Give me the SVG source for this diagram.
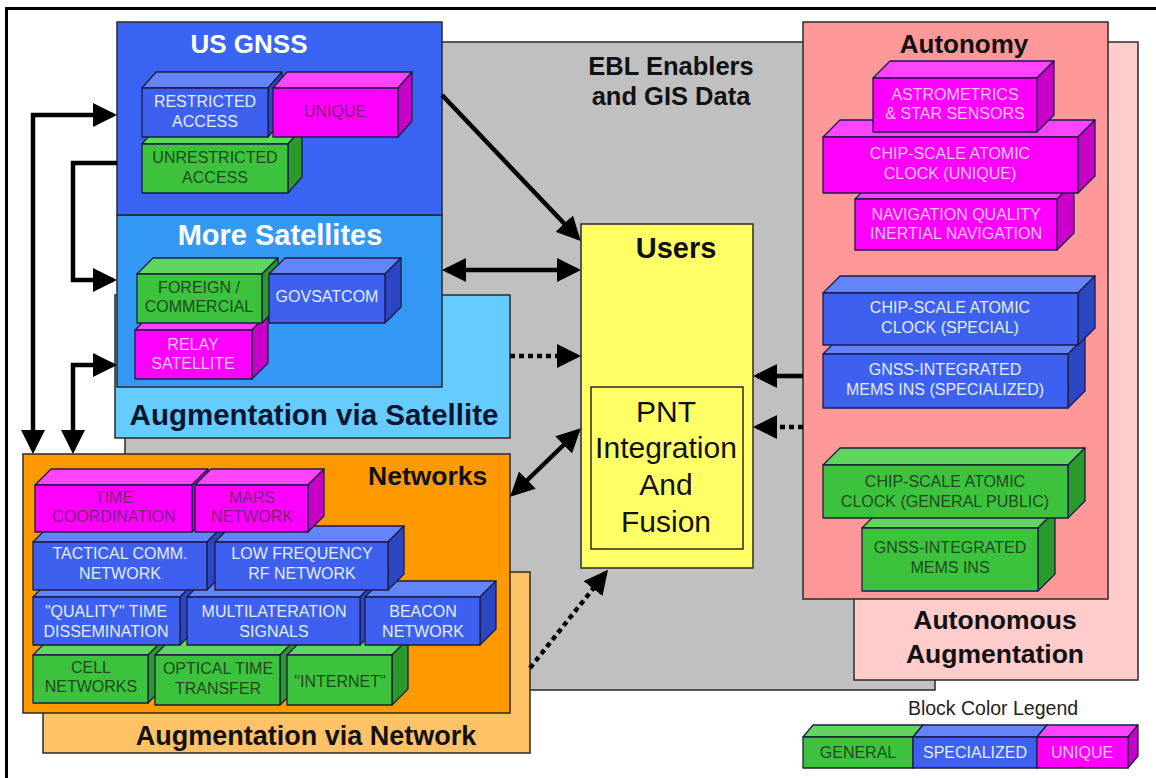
<svg xmlns="http://www.w3.org/2000/svg" width="1156" height="778" viewBox="0 0 1156 778">
<style>
text{font-family:"Liberation Sans",Arial,sans-serif;}
.reg{stroke:#2a2a2a;stroke-width:1.5;}
.title{font-weight:bold;text-anchor:middle;}
.blk polygon,.blk rect{stroke:#1c1c44;stroke-width:1.3;stroke-linejoin:round;}
.blk text{font-size:16px;text-anchor:middle;}
.blue rect{fill:#3d60ee;} .blue .t{fill:#6485fa;} .blue .s{fill:#2c47c4;} .blue text{fill:#e4ecff;}
.green rect{fill:#3cc23c;} .green .t{fill:#5fd65f;} .green .s{fill:#2a9a2a;} .green text{fill:#1d4a1d;}
.mag rect{fill:#ff00ff;} .mag .t{fill:#ff44ff;} .mag .s{fill:#c800c8;} .mag text{fill:#ffc4ff;}
.mag text.dk{fill:#7e247e;}
.arr{fill:none;stroke:#000;stroke-width:4.5;}
.dot{stroke-dasharray:5 4;}
</style>
<defs>
<marker id="ah" viewBox="0 0 24 24" refX="20" refY="12" markerWidth="24" markerHeight="24" markerUnits="userSpaceOnUse" orient="auto-start-reverse">
<path d="M0,0 L24,12 L0,24 z" fill="#000"/>
</marker>
</defs>
<rect width="1156" height="778" fill="#fff"/>
<line x1="5" y1="8.5" x2="1156" y2="8.5" stroke="#000" stroke-width="3"/>
<line x1="6.5" y1="7" x2="6.5" y2="778" stroke="#000" stroke-width="3"/>

<g id="ebl">
<rect class="reg" x="125" y="42" width="810" height="648" fill="#c0c0c0"/>
<text class="title" x="671" y="75" font-size="25.5" fill="#111">EBL Enablers</text>
<text class="title" x="671" y="105" font-size="25.5" fill="#111">and GIS Data</text>
</g>

<g id="autonomous-augmentation">
<rect class="reg" x="854" y="42" width="284" height="638" fill="#ffcccc"/>
<text class="title" x="995" y="629" font-size="26.5" fill="#111">Autonomous</text>
<text class="title" x="995" y="663" font-size="26.5" fill="#111">Augmentation</text>
</g>

<g id="autonomy">
<rect class="reg" x="803" y="22" width="305" height="577" fill="#ff9999"/>
<text class="title" x="964" y="53" font-size="26" fill="#111">Autonomy</text>
</g>
<g id="gnss-mems-ins" class="blk green">
<polygon class="t" points="862,528 879,511 1055,511 1038,528"/><polygon class="s" points="1038,528 1055,511 1055,574 1038,591"/><rect x="862" y="528" width="176" height="63"/>
<text x="950" y="553">GNSS-INTEGRATED</text><text x="950" y="573">MEMS INS</text></g>
<g id="csac-general" class="blk green">
<polygon class="t" points="823,465 840,448 1085,448 1068,465"/><polygon class="s" points="1068,465 1085,448 1085,501 1068,518"/><rect x="823" y="465" width="245" height="53"/>
<text x="945" y="487">CHIP-SCALE ATOMIC</text><text x="945" y="507">CLOCK (GENERAL PUBLIC)</text></g>
<g id="gnss-mems-ins-spec" class="blk blue">
<polygon class="t" points="823,354 840,337 1085,337 1068,354"/><polygon class="s" points="1068,354 1085,337 1085,391 1068,408"/><rect x="823" y="354" width="245" height="54"/>
<text x="945" y="375">GNSS-INTEGRATED</text><text x="945" y="395">MEMS INS (SPECIALIZED)</text></g>
<g id="csac-special" class="blk blue">
<polygon class="t" points="823,293 840,276 1095,276 1078,293"/><polygon class="s" points="1078,293 1095,276 1095,328 1078,345"/><rect x="823" y="293" width="255" height="52"/>
<text x="950" y="313">CHIP-SCALE ATOMIC</text><text x="950" y="333">CLOCK (SPECIAL)</text></g>
<g id="nav-quality-ins" class="blk mag">
<polygon class="t" points="855,199 872,182 1074,182 1057,199"/><polygon class="s" points="1057,199 1074,182 1074,233 1057,250"/><rect x="855" y="199" width="202" height="51"/>
<text x="956" y="220">NAVIGATION QUALITY</text><text x="956" y="239">INERTIAL NAVIGATION</text></g>
<g id="csac-unique" class="blk mag">
<polygon class="t" points="823,137 840,120 1095,120 1078,137"/><polygon class="s" points="1078,137 1095,120 1095,176 1078,193"/><rect x="823" y="137" width="255" height="56"/>
<text x="950" y="159">CHIP-SCALE ATOMIC</text><text x="950" y="179">CLOCK (UNIQUE)</text></g>
<g id="astrometrics" class="blk mag">
<polygon class="t" points="873,78 890,61 1054,61 1037,78"/><polygon class="s" points="1037,78 1054,61 1054,115 1037,132"/><rect x="873" y="78" width="164" height="54"/>
<text x="955" y="100">ASTROMETRICS</text><text x="955" y="119">&amp; STAR SENSORS</text></g>

<g id="augmentation-via-satellite">
<rect class="reg" x="115" y="295" width="395" height="143" fill="#66ccff"/>
<text class="title" x="314" y="425" font-size="29.5" fill="#0b1530">Augmentation via Satellite</text>
</g>
<g id="more-satellites">
<rect class="reg" x="117" y="215" width="325" height="172" fill="#3399f5"/>
<text class="title" x="280" y="245" font-size="29" fill="#fff">More Satellites</text>
</g>
<g id="relay-satellite" class="blk mag">
<polygon class="t" points="135,330 151,314 268,314 252,330"/><polygon class="s" points="252,330 268,314 268,363 252,379"/><rect x="135" y="330" width="117" height="49"/>
<text x="193" y="350">RELAY</text><text x="193" y="369">SATELLITE</text></g>
<g id="foreign-commercial" class="blk green">
<polygon class="t" points="137,274 153,258 278,258 262,274"/><polygon class="s" points="262,274 278,258 278,307 262,323"/><rect x="137" y="274" width="125" height="49"/>
<text x="199" y="293">FOREIGN /</text><text x="199" y="312">COMMERCIAL</text></g>
<g id="govsatcom" class="blk blue">
<polygon class="t" points="269,274 285,258 401,258 385,274"/><polygon class="s" points="385,274 401,258 401,307 385,323"/><rect x="269" y="274" width="116" height="49"/>
<text x="327" y="302">GOVSATCOM</text></g>

<g id="us-gnss">
<rect class="reg" x="117" y="22" width="325" height="193" fill="#3a64f3"/>
<text class="title" x="249" y="53" font-size="26" fill="#fff">US GNSS</text>
</g>
<g id="unrestricted-access" class="blk green">
<polygon class="t" points="142,144 156,128 302,128 288,144"/><polygon class="s" points="288,144 302,128 302,177 288,193"/><rect x="142" y="144" width="146" height="49"/>
<text x="215" y="163">UNRESTRICTED</text><text x="215" y="183">ACCESS</text></g>
<g id="restricted-access" class="blk blue">
<polygon class="t" points="142,88 156,72 282,72 268,88"/><polygon class="s" points="268,88 282,72 282,121 268,137"/><rect x="142" y="88" width="126" height="49"/>
<text x="205" y="107">RESTRICTED</text><text x="205" y="127">ACCESS</text></g>
<g id="unique-gnss" class="blk mag">
<polygon class="t" points="273,88 287,72 412,72 398,88"/><polygon class="s" points="398,88 412,72 412,121 398,137"/><rect x="273" y="88" width="125" height="49"/>
<text class="dk" x="335" y="117">UNIQUE</text></g>

<g id="augmentation-via-network">
<rect class="reg" x="43" y="572" width="487" height="181" fill="#ffc266"/>
<text class="title" x="306" y="745" font-size="27" fill="#111">Augmentation via Network</text>
</g>
<g id="networks">
<rect class="reg" x="23" y="454" width="487" height="259" fill="#ff9900"/>
<text x="368" y="485" font-size="26.5" font-weight="bold" fill="#111">Networks</text>
</g>
<g id="cell-networks" class="blk green">
<polygon class="t" points="33,655 49,639 164,639 148,655"/><polygon class="s" points="148,655 164,639 164,687 148,703"/><rect x="33" y="655" width="115" height="48"/>
<text x="91" y="673">CELL</text><text x="91" y="692">NETWORKS</text></g>
<g id="optical-time-transfer" class="blk green">
<polygon class="t" points="155,655 171,639 296,639 280,655"/><polygon class="s" points="280,655 296,639 296,689 280,705"/><rect x="155" y="655" width="125" height="50"/>
<text x="218" y="674">OPTICAL TIME</text><text x="218" y="694">TRANSFER</text></g>
<g id="internet" class="blk green">
<polygon class="t" points="287,655 303,639 408,639 392,655"/><polygon class="s" points="392,655 408,639 408,689 392,705"/><rect x="287" y="655" width="105" height="50"/>
<text x="340" y="687">"INTERNET"</text></g>
<g id="quality-time" class="blk blue">
<polygon class="t" points="33,597 49,581 196,581 180,597"/><polygon class="s" points="180,597 196,581 196,629 180,645"/><rect x="33" y="597" width="147" height="48"/>
<text x="106" y="617">"QUALITY" TIME</text><text x="106" y="637">DISSEMINATION</text></g>
<g id="multilateration" class="blk blue">
<polygon class="t" points="187,597 203,581 376,581 360,597"/><polygon class="s" points="360,597 376,581 376,629 360,645"/><rect x="187" y="597" width="173" height="48"/>
<text x="274" y="617">MULTILATERATION</text><text x="274" y="637">SIGNALS</text></g>
<g id="beacon-network" class="blk blue">
<polygon class="t" points="365,597 381,581 496,581 480,597"/><polygon class="s" points="480,597 496,581 496,629 480,645"/><rect x="365" y="597" width="115" height="48"/>
<text x="423" y="617">BEACON</text><text x="423" y="637">NETWORK</text></g>
<g id="tactical-comm" class="blk blue">
<polygon class="t" points="33,542 49,526 223,526 207,542"/><polygon class="s" points="207,542 223,526 223,574 207,590"/><rect x="33" y="542" width="174" height="48"/>
<text x="120" y="559">TACTICAL COMM.</text><text x="120" y="579">NETWORK</text></g>
<g id="low-frequency-rf" class="blk blue">
<polygon class="t" points="215,542 231,526 404,526 388,542"/><polygon class="s" points="388,542 404,526 404,574 388,590"/><rect x="215" y="542" width="173" height="48"/>
<text x="302" y="559">LOW FREQUENCY</text><text x="302" y="579">RF NETWORK</text></g>
<g id="time-coordination" class="blk mag">
<polygon class="t" points="35,485 51,469 208,469 192,485"/><polygon class="s" points="192,485 208,469 208,516 192,532"/><rect x="35" y="485" width="157" height="47"/>
<text class="dk" x="114" y="503">TIME</text><text class="dk" x="114" y="522">COORDINATION</text></g>
<g id="mars-network" class="blk mag">
<polygon class="t" points="195,485 211,469 324,469 308,485"/><polygon class="s" points="308,485 324,469 324,516 308,532"/><rect x="195" y="485" width="113" height="47"/>
<text class="dk" x="252" y="503">MARS</text><text class="dk" x="252" y="522">NETWORK</text></g>

<g id="users">
<rect class="reg" x="581" y="224" width="172" height="344" fill="#ffff66"/>
<text class="title" x="676" y="258" font-size="29" fill="#111">Users</text>
</g>
<g id="pnt-fusion">
<rect class="reg" x="591" y="387" width="152" height="162" fill="#ffff66"/>
<g font-size="30" text-anchor="middle" fill="#111">
<text x="666" y="422">PNT</text><text x="666" y="458">Integration</text><text x="666" y="495">And</text><text x="666" y="532">Fusion</text>
</g>
</g>

<g id="legend">
<text x="993" y="715" font-size="19.5" text-anchor="middle" fill="#222">Block Color Legend</text>
<g class="blk green"><polygon class="t" points="803,737 813,725 923,725 913,737"/><polygon class="s" points="913,737 923,725 923,756 913,768"/><rect x="803" y="737" width="110" height="31"/><text x="858" y="758">GENERAL</text></g>
<g class="blk blue"><polygon class="t" points="913,737 923,725 1047,725 1037,737"/><polygon class="s" points="1037,737 1047,725 1047,756 1037,768"/><rect x="913" y="737" width="124" height="31"/><text x="975" y="758">SPECIALIZED</text></g>
<g class="blk mag"><polygon class="t" points="1037,737 1047,725 1138,725 1128,737"/><polygon class="s" points="1128,737 1138,725 1138,756 1128,768"/><rect x="1037" y="737" width="91" height="31"/><text x="1082" y="758">UNIQUE</text></g>
</g>

<g id="connectors">
<path class="arr" d="M113,115 L33,115 L33,450" marker-start="url(#ah)" marker-end="url(#ah)"/>
<path class="arr" d="M117,163 L73,163 L73,280 L113,280" marker-end="url(#ah)"/>
<path class="arr" d="M113,365 L73,365 L73,450" marker-start="url(#ah)" marker-end="url(#ah)"/>
<path class="arr" d="M442,95 L578,238" marker-end="url(#ah)"/>
<path class="arr" d="M446,270 L577,270" marker-start="url(#ah)" marker-end="url(#ah)"/>
<path class="arr dot" d="M510,356 L577,356" marker-end="url(#ah)"/>
<path class="arr" d="M513,494 L578,431" marker-start="url(#ah)" marker-end="url(#ah)"/>
<path class="arr dot" d="M530,668 L605.5,573" marker-end="url(#ah)"/>
<path class="arr" d="M803,376 L757,376" marker-end="url(#ah)"/>
<path class="arr dot" d="M803,427 L757,427" marker-end="url(#ah)"/>
</g>
</svg>
